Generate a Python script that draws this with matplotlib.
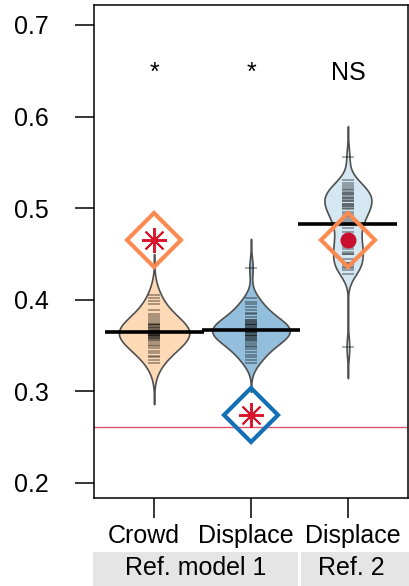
import numpy as np
import matplotlib
matplotlib.use("Agg")
import matplotlib.pyplot as plt
from matplotlib.patches import Rectangle
import matplotlib.transforms as mtransforms

plt.rcParams['font.family'] = ['Liberation Sans', 'DejaVu Sans']

# ---- data ----
categories = ["Crowd", "Displace", "Displace"]
positions = [1, 2, 3]
label_offsets = [-0.105, -0.057, 0.047]
crowd = [0.405, 0.402, 0.399, 0.395, 0.389, 0.385, 0.382, 0.380, 0.378, 0.376,
         0.374, 0.372, 0.370, 0.369, 0.367, 0.366, 0.365, 0.364, 0.363, 0.362,
         0.361, 0.360, 0.359, 0.358, 0.357, 0.355, 0.353, 0.351, 0.349, 0.347,
         0.344, 0.342, 0.339, 0.337, 0.334, 0.331,
         0.368, 0.366, 0.364, 0.362, 0.360, 0.370, 0.372, 0.358, 0.356, 0.374]
displace1 = [0.435, 0.402, 0.398, 0.395, 0.392, 0.389, 0.386, 0.384, 0.381, 0.378,
             0.376, 0.374, 0.372, 0.370, 0.368, 0.366, 0.365, 0.364, 0.362, 0.360,
             0.358, 0.356, 0.354, 0.352, 0.350, 0.348, 0.346, 0.343, 0.340, 0.337,
             0.334, 0.331,
             0.370, 0.368, 0.366, 0.364, 0.362, 0.372, 0.374, 0.360, 0.358, 0.376,
             0.356, 0.378]
displace2 = [0.556, 0.531, 0.527, 0.523, 0.520, 0.517, 0.514, 0.511, 0.508, 0.505,
             0.502, 0.499, 0.496, 0.494, 0.492, 0.490, 0.488, 0.486, 0.484, 0.482,
             0.478, 0.474, 0.470, 0.468, 0.466, 0.462, 0.460, 0.458, 0.455, 0.452,
             0.450, 0.445, 0.440, 0.435, 0.348,
             0.518, 0.515, 0.512, 0.510, 0.508, 0.505, 0.502, 0.500, 0.438, 0.436,
             0.450, 0.440, 0.525, 0.521, 0.432, 0.428]
series = [crowd, displace1, displace2]
bandwidths = [0.015, 0.0105, 0.0112]
reference_values = [0.465, 0.274, 0.465]     # diamonds
star_values = [0.465, 0.274]                 # asterisks inside diamonds (positions 1,2)
dot_values = [0.465]                         # red dot (position 3)
baseline_value = 0.261
significance = ["*", "*", "NS"]
group_labels = ["Ref. model 1", "Ref. 2"]
group_spans = [(0.37, 2.48), (2.52, 3.75)]
group_label_x = [1.43, 3.03]
yticks = [0.2, 0.3, 0.4, 0.5, 0.6, 0.7]

# ---- style ----
fill_colors = ["#FDD9B6", "#93BFDD", "#D5E7F2"]
diamond_colors = ["#FA8B50", "#1470B4", "#FA8B50"]
star_color = "#D7142B"
dot_color = "#C8102E"
line_red = "#DF536B"

fig = plt.figure(figsize=(4.10, 5.86), dpi=100)
ax = fig.add_axes([94/410, 1-498/586, (408-94)/410, (498-5)/586])

# density estimate (gaussian kde, computed with numpy)
dens = []
for vals, bw in zip(series, bandwidths):
    v = np.asarray(vals)
    g = np.linspace(v.min() - 3*bw, v.max() + 3*bw, 400)
    d = np.exp(-0.5*((g[:, None] - v[None, :])/bw)**2).sum(axis=1) / (len(v)*bw*np.sqrt(2*np.pi))
    dens.append((g, d))
dmax = max(d.max() for _, d in dens)
half_width = 0.40

for i, (pos, vals) in enumerate(zip(positions, series)):
    g, d = dens[i]
    w = d / dmax * half_width
    ax.fill_betweenx(g, pos - w, pos + w, facecolor=fill_colors[i],
                     edgecolor="#505050", linewidth=1.2, zorder=2)
    for v in vals:
        ax.plot([pos - 0.062, pos + 0.062], [v, v], color="black", alpha=0.35,
                lw=1.3, solid_capstyle='butt', zorder=3)
    m = np.mean(vals)
    ax.plot([pos - 0.51, pos + 0.51], [m, m], color="black", lw=2.6,
            solid_capstyle='butt', zorder=4)

ax.axhline(baseline_value, color=line_red, lw=1.0, zorder=1)

for pos, val, col in zip(positions, reference_values, diamond_colors):
    ax.plot([pos], [val], marker='D', ms=27, mfc='none', mec=col, mew=3.0, zorder=6)
for pos, val in zip(positions[:2], star_values):
    ax.plot([pos], [val], marker=(8, 2, 0), ms=18, color=star_color, mew=1.4, zorder=7)
for val in dot_values:
    ax.plot([positions[2]], [val], marker='o', ms=10.5, color=dot_color, mec=dot_color, zorder=7)

for pos, s in zip(positions, significance):
    ax.text(pos, 0.640, s, ha='center', va='baseline', fontsize=18)

ax.set_xlim(0.38, 3.62)
ax.set_ylim(0.1836, 0.7218)
ax.set_yticks(yticks)
ax.set_yticklabels([f"{t:.1f}" for t in yticks])
ax.set_xticks(positions)
ax.set_xticklabels([])
ax.tick_params(axis='y', length=13.7, width=1.1, pad=19, labelsize=18)
ax.tick_params(axis='x', length=14.5, width=1.1)
for sp in ax.spines.values():
    sp.set_linewidth(1.1)

trans = mtransforms.blended_transform_factory(ax.transData, ax.transAxes)
for pos, off, lab in zip(positions, label_offsets, categories):
    ax.text(pos + off, -(543 - 498) / 493, lab, transform=trans, ha='center',
            va='baseline', fontsize=18)
for (x0, x1), lab, lx in zip(group_spans, group_labels, group_label_x):
    ax.add_patch(Rectangle((x0, -0.25), x1 - x0, 0.25 - (552 - 498) / 493, transform=trans,
                           facecolor="#E5E5E5", edgecolor='none', clip_on=False))
    ax.text(lx, -(575 - 498) / 493, lab, transform=trans, ha='center', va='baseline', fontsize=18)

fig.savefig("out.png", dpi=100)
